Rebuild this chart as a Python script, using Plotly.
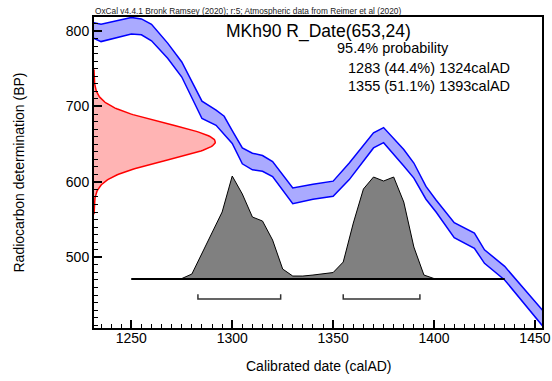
import numpy as np
import plotly.graph_objects as go

# ---------------- data ----------------
# Calibration curve (IntCal20), 1-sigma band edges, cal AD -> 14C BP
curve_years = [1230, 1235, 1250, 1255, 1260, 1268, 1275, 1285, 1292, 1296,
               1300, 1305, 1310, 1315, 1320, 1330, 1340, 1350, 1358, 1370,
               1375, 1385, 1390, 1396, 1401, 1410, 1420, 1425, 1435, 1455]
curve_upper = [812, 809, 818, 816, 809, 784, 759, 707, 695, 687,
               668, 645, 638, 635, 627, 592, 597, 601, 625, 665,
               672, 643, 625, 594, 576, 546, 532, 510, 488, 426]
curve_lower = [792, 786, 796, 795, 787, 764, 739, 684, 675, 663,
               651, 624, 616, 614, 607, 571, 577, 581, 603, 645,
               652, 621, 605, 577, 560, 526, 512, 492, 470, 405]

# Radiocarbon determination
sample_name = "MKh90"
date_mean = 653
date_sd = 24

# Calibrated (posterior) distribution, relative probability
post_years = [1250, 1255, 1260, 1265, 1270, 1275, 1280, 1285, 1290, 1295,
              1300, 1305, 1310, 1315, 1320, 1325, 1330, 1335, 1340, 1345,
              1350, 1355, 1360, 1365, 1370, 1375, 1380, 1385, 1390, 1395,
              1400, 1405, 1410, 1415, 1420, 1425, 1430, 1435]
post_prob = [0, 0, 0, 0, 0, 0.5, 5, 26, 46, 67,
             103, 85, 62, 58, 39, 10, 3, 3, 4, 5,
             6.5, 17, 56, 90, 102, 98, 102, 77, 32, 4,
             0.5, 0, 0, 0, 0, 0, 0, 0]

# 95.4% ranges
range_from = [1283, 1355]
range_to = [1324, 1393]
range_pct = [44.4, 51.1]

x_ticks = [1250, 1300, 1350, 1400, 1450]
y_ticks = [500, 600, 700, 800]

# ---------------- layout constants ----------------
XMIN, XMAX = 1231.5, 1453.5
YMIN, YMAX = 406.3, 818.6
RED_AMP = 60.1          # width of the BP gaussian in years
POST_BASE = 471.2       # baseline of posterior (BP units)
POST_HEIGHT = 136.6     # max height of posterior (BP units)
BRACKET_Y = 444.7
BRACKET_TICK = 6.3
FONT = "Liberation Sans, Arial, Helvetica, sans-serif"

fig = go.Figure()

# Red gaussian for the radiocarbon determination
bp = np.linspace(date_mean - 4 * date_sd, date_mean + 4 * date_sd, 200)
dens = np.exp(-0.5 * ((bp - date_mean) / date_sd) ** 2)
rx = XMIN + RED_AMP * dens
fig.add_trace(go.Scatter(
    x=np.concatenate([[XMIN], rx, [XMIN]]),
    y=np.concatenate([[bp[0]], bp, [bp[-1]]]),
    fill="toself", fillcolor="#ffb4b4", line=dict(width=0),
    mode="lines", hoverinfo="skip", showlegend=False))
fig.add_trace(go.Scatter(x=rx, y=bp, mode="lines",
                         line=dict(color="#ff0000", width=1.5),
                         hoverinfo="skip", showlegend=False))

# Calibration curve band
fig.add_trace(go.Scatter(x=curve_years, y=curve_lower, mode="lines",
                         line=dict(color="#0000ff", width=1.5),
                         hoverinfo="skip", showlegend=False))
fig.add_trace(go.Scatter(x=curve_years, y=curve_upper, mode="lines",
                         line=dict(color="#0000ff", width=1.5),
                         fill="tonexty", fillcolor="#aaaaff",
                         hoverinfo="skip", showlegend=False))

# Posterior distribution
pmax = max(post_prob)
post_y = [POST_BASE + p / pmax * POST_HEIGHT for p in post_prob]
fig.add_trace(go.Scatter(x=post_years, y=[POST_BASE] * len(post_years),
                         mode="lines", line=dict(color="black", width=2),
                         hoverinfo="skip", showlegend=False))
fig.add_trace(go.Scatter(x=post_years, y=post_y, mode="lines",
                         line=dict(color="black", width=1),
                         fill="tonexty", fillcolor="#808080",
                         hoverinfo="skip", showlegend=False))

# Range brackets
for a, b in zip(range_from, range_to):
    fig.add_trace(go.Scatter(
        x=[a, a, b, b],
        y=[BRACKET_Y + BRACKET_TICK, BRACKET_Y, BRACKET_Y, BRACKET_Y + BRACKET_TICK],
        mode="lines", line=dict(color="#333333", width=1.5),
        hoverinfo="skip", showlegend=False))

axis_common = dict(showline=True, linewidth=2, linecolor="black", mirror=True,
                   ticks="inside", tickcolor="black", tickwidth=1.5, ticklen=8,
                   showgrid=False, zeroline=False, automargin=False,
                   tickfont=dict(family=FONT, size=14, color="black"))

fig.update_xaxes(range=[XMIN, XMAX], tickvals=x_ticks, ticklabelstandoff=-4,
                 minor=dict(dtick=5, tick0=1250, ticks="inside", ticklen=4,
                            tickwidth=1.2, tickcolor="black"),
                 **axis_common)
fig.update_yaxes(range=[YMIN, YMAX], tickvals=y_ticks,
                 minor=dict(dtick=10, tick0=0, ticks="inside", ticklen=4,
                            tickwidth=1.2, tickcolor="black"),
                 **axis_common)

L, R, T, B = 94, 10, 17, 53
W, H = 552, 381
pw, ph = W - L - R, H - T - B


def px(xp):
    return (xp - L) / pw


def py(yp):
    return (H - B - yp) / ph


ann = []
ann.append(dict(text="OxCal v4.4.1 Bronk Ramsey (2020); r:5; Atmospheric data from Reimer et al (2020)",
                x=px(93), y=py(11), xanchor="left", yanchor="middle",
                font=dict(family=FONT, size=8.3, color="#222222")))
ann.append(dict(text=f"{sample_name} R_Date({date_mean},{date_sd})",
                x=px(318), y=py(32), xanchor="center", yanchor="middle",
                font=dict(family=FONT, size=17.5, color="black")))
ann.append(dict(text="95.4% probability",
                x=px(392.5), y=py(48), xanchor="center", yanchor="middle",
                font=dict(family=FONT, size=14.5, color="black")))
for i, (a, b, p) in enumerate(zip(range_from, range_to, range_pct)):
    ann.append(dict(text=f"{a} ({p}%) {b}calAD",
                    x=px(345.7), y=py(68 + 18 * i), xanchor="left", yanchor="middle",
                    font=dict(family=FONT, size=14.5, color="black")))
ann.append(dict(text="Calibrated date (calAD)",
                x=px(318.5), y=py(366), xanchor="center", yanchor="middle",
                font=dict(family=FONT, size=14, color="black")))
ann.append(dict(text="Radiocarbon determination (BP)", textangle=-90,
                x=px(18), y=py(172.5), xanchor="center", yanchor="middle",
                font=dict(family=FONT, size=14, color="black")))
for a in ann:
    a.update(xref="paper", yref="paper", showarrow=False)

fig.update_layout(width=W, height=H, margin=dict(l=L, r=R, t=T, b=B, autoexpand=False),
                  paper_bgcolor="white", plot_bgcolor="white",
                  showlegend=False, annotations=ann)

fig.write_html("out.html")
